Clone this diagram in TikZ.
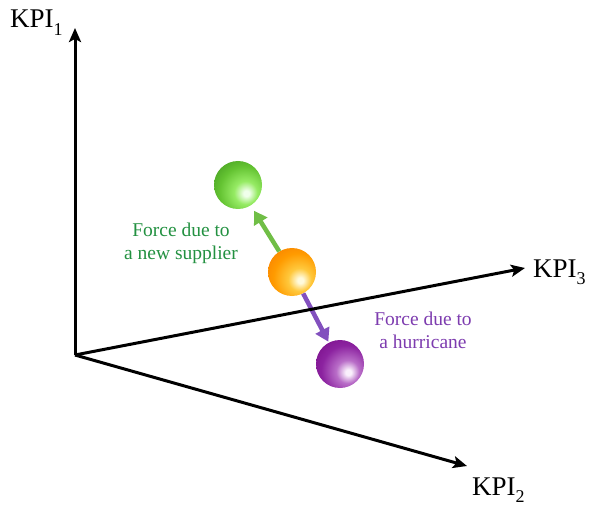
\documentclass[tikz,border=0pt]{standalone}
\usepackage{fontspec}
\setmainfont{Liberation Serif}
\usetikzlibrary{arrows.meta}
\definecolor{gHi}{RGB}{240,255,235}
\definecolor{gLt}{RGB}{150,235,100}
\definecolor{gMid}{RGB}{100,195,50}
\definecolor{gEdge}{RGB}{55,140,25}
\definecolor{gDark}{RGB}{35,105,15}
\definecolor{oHi}{RGB}{255,250,220}
\definecolor{oLt}{RGB}{255,200,60}
\definecolor{oMid}{RGB}{255,155,0}
\definecolor{oEdge}{RGB}{245,115,0}
\definecolor{oDark}{RGB}{210,90,0}
\definecolor{pHi}{RGB}{250,240,252}
\definecolor{pLt}{RGB}{185,110,200}
\definecolor{pMid}{RGB}{140,35,160}
\definecolor{pEdge}{RGB}{115,5,130}
\definecolor{pDark}{RGB}{90,0,105}
\definecolor{garrowc}{RGB}{112,190,70}
\definecolor{parrowc}{RGB}{130,80,190}
\definecolor{gtext}{RGB}{35,145,65}
\definecolor{ptext}{RGB}{125,60,175}
\pgfdeclareradialshading{greenball}{\pgfpoint{9bp}{-9bp}}{color(0bp)=(gHi); color(3bp)=(gHi); color(12bp)=(gLt); color(26bp)=(gMid); color(46bp)=(gEdge); color(62bp)=(gDark); color(100bp)=(gDark)}
\pgfdeclareradialshading{orangeball}{\pgfpoint{9bp}{-9bp}}{color(0bp)=(oHi); color(3bp)=(oHi); color(12bp)=(oLt); color(26bp)=(oMid); color(46bp)=(oEdge); color(62bp)=(oDark); color(100bp)=(oDark)}
\pgfdeclareradialshading{purpleball}{\pgfpoint{9bp}{-9bp}}{color(0bp)=(pHi); color(3bp)=(pHi); color(12bp)=(pLt); color(26bp)=(pMid); color(46bp)=(pEdge); color(62bp)=(pDark); color(100bp)=(pDark)}
\tikzset{
  axis/.style={line width=3pt,-{Stealth[length=14pt,width=12pt,inset=3pt]}},
  ball/.style={circle,minimum size=48pt,inner sep=0pt},
  kpi/.style={anchor=base west,inner sep=0pt,font=\fontsize{27}{27}\selectfont},
  force/.style={align=center,inner sep=0pt,font=\fontsize{19.5}{23}\selectfont},
  farrow/.style={line width=4.5pt,-{Triangle[length=13pt,width=15pt]}}
}
\newcommand{\kpisub}[1]{\raisebox{-0.28em}{\fontsize{18}{18}\selectfont #1}}
\begin{document}
\begin{tikzpicture}[x=1pt,y=-1pt]
\useasboundingbox (0,0) rectangle (589,505);
\coordinate (O) at (75,355);
\coordinate (A1) at (75,28);
\coordinate (A3) at (525,268);
\coordinate (A2) at (467,466);
\node[ball,shading=greenball] (g) at (238,185) {};
\node[ball,shading=orangeball] (o) at (292,272) {};
\node[ball,shading=purpleball] (p) at (340,364) {};
\draw[farrow,draw=garrowc,fill=garrowc,shorten >=6pt] (o) -- (g);
\draw[farrow,draw=parrowc,fill=parrowc,shorten >=1pt] (o) -- (p);
\draw[axis] (O) -- (A1);
\draw[axis] (O) -- (A3);
\draw[axis] (O) -- (A2);
\node[kpi] (k1) at (10,28) {KPI\kpisub{1}};
\node[kpi] (k3) at (533,277) {KPI\kpisub{3}};
\node[kpi] (k2) at (472,495) {KPI\kpisub{2}};
\node[force,text=gtext] (tg) at (181,243) {Force due to\\a new supplier};
\node[force,text=ptext] (tp) at (423,330) {Force due to\\a hurricane};
\end{tikzpicture}
\end{document}
